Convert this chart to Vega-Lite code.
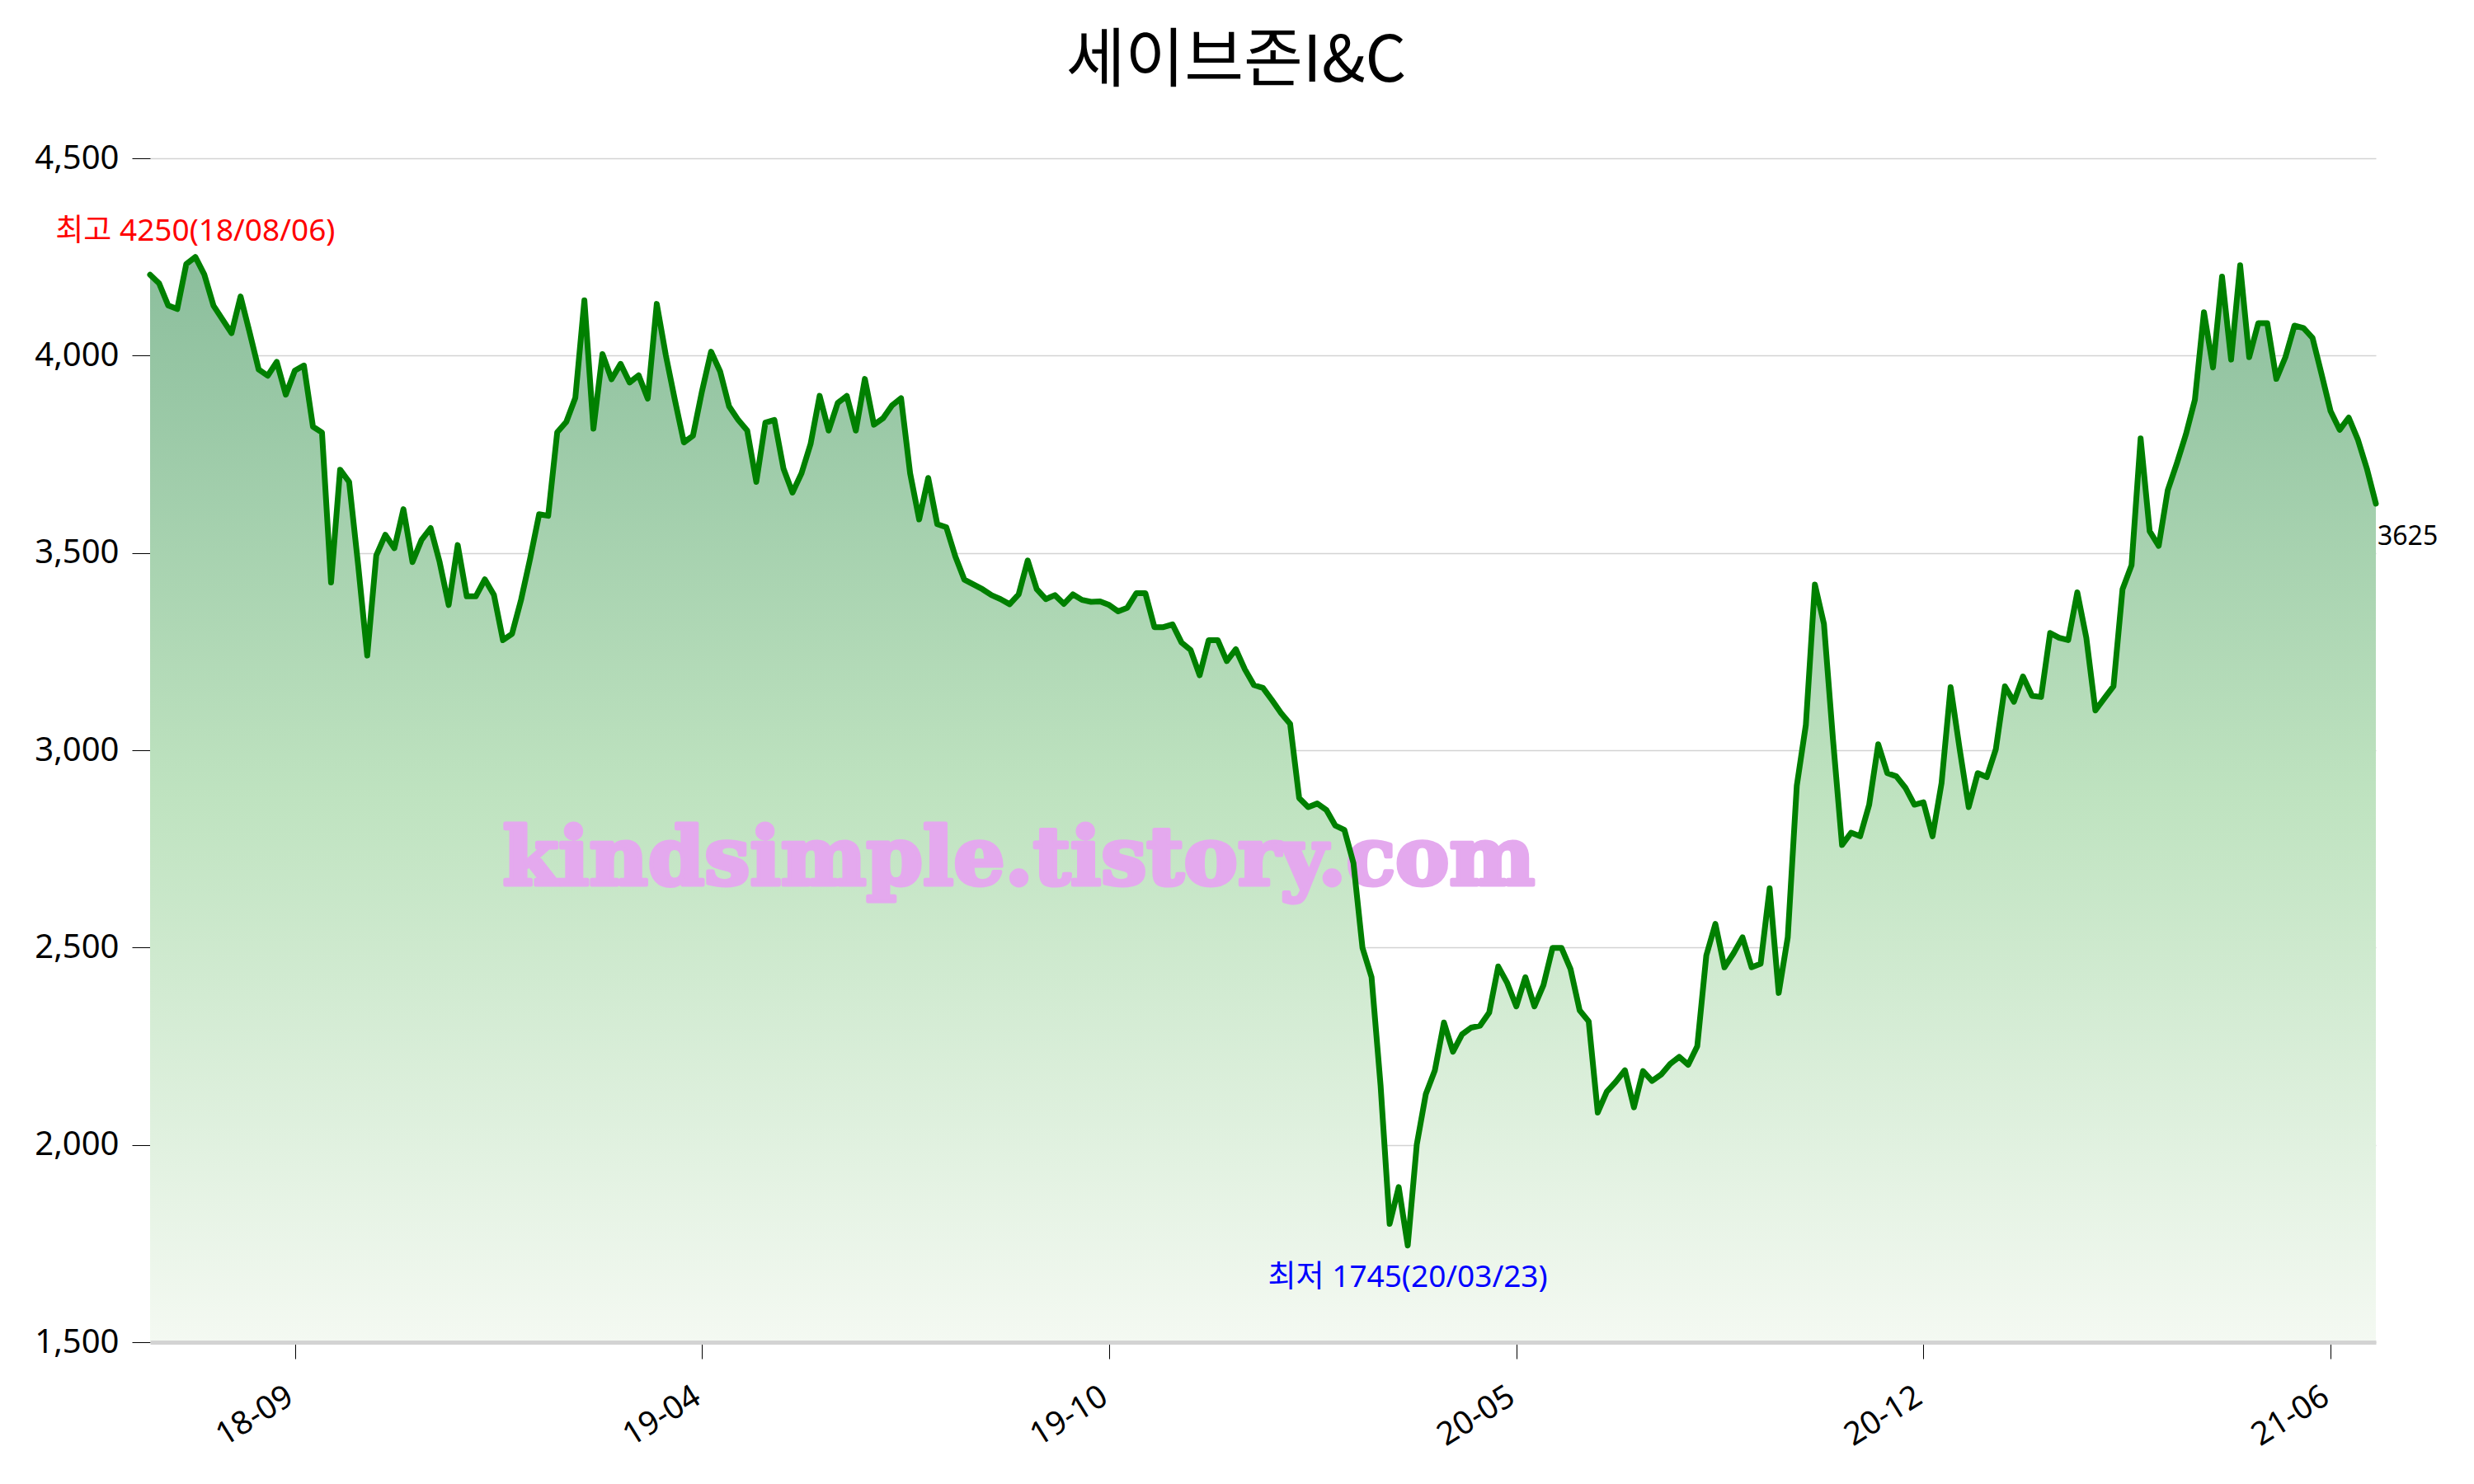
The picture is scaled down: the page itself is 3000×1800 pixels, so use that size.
{
  "$schema": "https://vega.github.io/schema/vega-lite/v6.json",
  "width": 2699,
  "height": 1436,
  "autosize": {"type": "none"},
  "padding": {"left": 182, "top": 192, "right": 119, "bottom": 172},
  "background": "white",
  "config": {"view": {"stroke": null}},
  "title": {"text": "세이브존I&C", "font": "Noto Sans CJK KR", "fontSize": 78, "fontWeight": "normal", "color": "black", "anchor": "middle", "frame": "bounds", "offset": 57},
  "datasets": {
    "price": [
      {"date":"2018-07-16","close":4205},{"date":"2018-07-20","close":4183},{"date":"2018-07-24","close":4127},{"date":"2018-07-28","close":4118},{"date":"2018-08-02","close":4232},
      {"date":"2018-08-06","close":4250},{"date":"2018-08-10","close":4205},{"date":"2018-08-15","close":4127},{"date":"2018-08-19","close":4092},{"date":"2018-08-24","close":4057},
      {"date":"2018-08-28","close":4150},{"date":"2018-09-02","close":4059},{"date":"2018-09-06","close":3965},{"date":"2018-09-11","close":3949},{"date":"2018-09-15","close":3984},
      {"date":"2018-09-19","close":3901},{"date":"2018-09-24","close":3962},{"date":"2018-09-28","close":3975},{"date":"2018-10-03","close":3820},{"date":"2018-10-07","close":3805},
      {"date":"2018-10-12","close":3425},{"date":"2018-10-16","close":3711},{"date":"2018-10-20","close":3680},{"date":"2018-10-25","close":3468},{"date":"2018-10-29","close":3240},
      {"date":"2018-11-03","close":3494},{"date":"2018-11-07","close":3546},{"date":"2018-11-12","close":3512},{"date":"2018-11-16","close":3611},{"date":"2018-11-21","close":3477},
      {"date":"2018-11-25","close":3533},{"date":"2018-11-29","close":3563},{"date":"2018-12-04","close":3477},{"date":"2018-12-08","close":3368},{"date":"2018-12-13","close":3520},
      {"date":"2018-12-17","close":3390},{"date":"2018-12-22","close":3390},{"date":"2018-12-26","close":3433},{"date":"2018-12-31","close":3394},{"date":"2019-01-04","close":3279},
      {"date":"2019-01-08","close":3295},{"date":"2019-01-13","close":3381},{"date":"2019-01-17","close":3485},{"date":"2019-01-22","close":3598},{"date":"2019-01-26","close":3594},
      {"date":"2019-01-31","close":3806},{"date":"2019-02-04","close":3832},{"date":"2019-02-08","close":3893},{"date":"2019-02-13","close":4140},{"date":"2019-02-17","close":3815},
      {"date":"2019-02-22","close":4004},{"date":"2019-02-26","close":3940},{"date":"2019-03-03","close":3979},{"date":"2019-03-07","close":3932},{"date":"2019-03-12","close":3950},
      {"date":"2019-03-16","close":3891},{"date":"2019-03-20","close":4131},{"date":"2019-03-25","close":4001},{"date":"2019-03-29","close":3888},{"date":"2019-04-03","close":3780},
      {"date":"2019-04-07","close":3797},{"date":"2019-04-12","close":3910},{"date":"2019-04-16","close":4010},{"date":"2019-04-21","close":3960},{"date":"2019-04-25","close":3871},
      {"date":"2019-04-29","close":3837},{"date":"2019-05-04","close":3810},{"date":"2019-05-08","close":3680},{"date":"2019-05-13","close":3830},{"date":"2019-05-17","close":3837},
      {"date":"2019-05-22","close":3714},{"date":"2019-05-26","close":3653},{"date":"2019-05-31","close":3702},{"date":"2019-06-04","close":3776},{"date":"2019-06-08","close":3898},
      {"date":"2019-06-13","close":3810},{"date":"2019-06-17","close":3880},{"date":"2019-06-22","close":3898},{"date":"2019-06-26","close":3810},{"date":"2019-07-01","close":3941},
      {"date":"2019-07-05","close":3825},{"date":"2019-07-09","close":3841},{"date":"2019-07-14","close":3874},{"date":"2019-07-18","close":3892},{"date":"2019-07-23","close":3702},
      {"date":"2019-07-27","close":3585},{"date":"2019-08-01","close":3690},{"date":"2019-08-05","close":3573},{"date":"2019-08-10","close":3565},{"date":"2019-08-14","close":3491},
      {"date":"2019-08-18","close":3432},{"date":"2019-08-23","close":3420},{"date":"2019-08-27","close":3408},{"date":"2019-09-01","close":3393},{"date":"2019-09-05","close":3383},
      {"date":"2019-09-10","close":3370},{"date":"2019-09-14","close":3395},{"date":"2019-09-19","close":3481},{"date":"2019-09-23","close":3408},{"date":"2019-09-27","close":3383},
      {"date":"2019-10-02","close":3393},{"date":"2019-10-06","close":3371},{"date":"2019-10-11","close":3395},{"date":"2019-10-15","close":3381},{"date":"2019-10-20","close":3376},
      {"date":"2019-10-24","close":3377},{"date":"2019-10-28","close":3368},{"date":"2019-11-02","close":3352},{"date":"2019-11-06","close":3361},{"date":"2019-11-11","close":3398},
      {"date":"2019-11-15","close":3398},{"date":"2019-11-20","close":3312},{"date":"2019-11-24","close":3312},{"date":"2019-11-29","close":3319},{"date":"2019-12-03","close":3273},
      {"date":"2019-12-07","close":3254},{"date":"2019-12-12","close":3190},{"date":"2019-12-16","close":3279},{"date":"2019-12-21","close":3279},{"date":"2019-12-25","close":3226},
      {"date":"2019-12-30","close":3256},{"date":"2020-01-03","close":3205},{"date":"2020-01-08","close":3165},{"date":"2020-01-12","close":3158},{"date":"2020-01-16","close":3127},
      {"date":"2020-01-21","close":3094},{"date":"2020-01-25","close":3067},{"date":"2020-01-30","close":2879},{"date":"2020-02-03","close":2856},{"date":"2020-02-08","close":2865},
      {"date":"2020-02-12","close":2849},{"date":"2020-02-16","close":2809},{"date":"2020-02-21","close":2798},{"date":"2020-02-25","close":2714},{"date":"2020-03-01","close":2499},
      {"date":"2020-03-05","close":2425},{"date":"2020-03-10","close":2150},{"date":"2020-03-14","close":1800},{"date":"2020-03-19","close":1893},{"date":"2020-03-23","close":1745},
      {"date":"2020-03-27","close":2001},{"date":"2020-04-01","close":2129},{"date":"2020-04-05","close":2189},{"date":"2020-04-10","close":2310},{"date":"2020-04-14","close":2236},
      {"date":"2020-04-19","close":2280},{"date":"2020-04-23","close":2297},{"date":"2020-04-28","close":2302},{"date":"2020-05-02","close":2335},{"date":"2020-05-07","close":2452},
      {"date":"2020-05-11","close":2410},{"date":"2020-05-16","close":2351},{"date":"2020-05-20","close":2425},{"date":"2020-05-25","close":2351},{"date":"2020-05-29","close":2405},
      {"date":"2020-06-03","close":2499},{"date":"2020-06-07","close":2499},{"date":"2020-06-12","close":2445},{"date":"2020-06-16","close":2341},{"date":"2020-06-21","close":2313},
      {"date":"2020-06-25","close":2082},{"date":"2020-06-30","close":2135},{"date":"2020-07-04","close":2160},{"date":"2020-07-09","close":2189},{"date":"2020-07-13","close":2095},
      {"date":"2020-07-18","close":2187},{"date":"2020-07-22","close":2162},{"date":"2020-07-27","close":2178},{"date":"2020-07-31","close":2205},{"date":"2020-08-05","close":2223},
      {"date":"2020-08-09","close":2203},{"date":"2020-08-14","close":2250},{"date":"2020-08-18","close":2480},{"date":"2020-08-23","close":2560},{"date":"2020-08-27","close":2450},
      {"date":"2020-08-31","close":2485},{"date":"2020-09-05","close":2526},{"date":"2020-09-09","close":2450},{"date":"2020-09-14","close":2459},{"date":"2020-09-18","close":2650},
      {"date":"2020-09-23","close":2385},{"date":"2020-09-27","close":2526},{"date":"2020-10-02","close":2910},{"date":"2020-10-06","close":3064},{"date":"2020-10-11","close":3420},
      {"date":"2020-10-15","close":3320},{"date":"2020-10-20","close":3027},{"date":"2020-10-24","close":2760},{"date":"2020-10-29","close":2791},{"date":"2020-11-02","close":2782},
      {"date":"2020-11-07","close":2862},{"date":"2020-11-11","close":3015},{"date":"2020-11-16","close":2942},{"date":"2020-11-20","close":2934},{"date":"2020-11-25","close":2905},
      {"date":"2020-11-29","close":2862},{"date":"2020-12-04","close":2868},{"date":"2020-12-08","close":2782},{"date":"2020-12-13","close":2917},{"date":"2020-12-17","close":3160},
      {"date":"2020-12-22","close":3003},{"date":"2020-12-26","close":2856},{"date":"2020-12-31","close":2942},{"date":"2021-01-04","close":2932},{"date":"2021-01-09","close":3003},
      {"date":"2021-01-13","close":3162},{"date":"2021-01-18","close":3123},{"date":"2021-01-22","close":3187},{"date":"2021-01-27","close":3138},{"date":"2021-01-31","close":3135},
      {"date":"2021-02-04","close":3297},{"date":"2021-02-09","close":3285},{"date":"2021-02-13","close":3279},{"date":"2021-02-18","close":3400},{"date":"2021-02-22","close":3285},
      {"date":"2021-02-27","close":3101},{"date":"2021-03-03","close":3132},{"date":"2021-03-08","close":3162},{"date":"2021-03-12","close":3408},{"date":"2021-03-17","close":3469},
      {"date":"2021-03-21","close":3790},{"date":"2021-03-26","close":3555},{"date":"2021-03-30","close":3518},{"date":"2021-04-04","close":3659},{"date":"2021-04-08","close":3727},
      {"date":"2021-04-13","close":3800},{"date":"2021-04-17","close":3888},{"date":"2021-04-22","close":4110},{"date":"2021-04-26","close":3970},{"date":"2021-05-01","close":4200},
      {"date":"2021-05-05","close":3990},{"date":"2021-05-10","close":4229},{"date":"2021-05-14","close":3996},{"date":"2021-05-19","close":4082},{"date":"2021-05-23","close":4082},
      {"date":"2021-05-28","close":3941},{"date":"2021-06-01","close":3996},{"date":"2021-06-06","close":4076},{"date":"2021-06-10","close":4070},{"date":"2021-06-15","close":4045},
      {"date":"2021-06-19","close":3953},{"date":"2021-06-24","close":3859},{"date":"2021-06-28","close":3812},{"date":"2021-07-03","close":3843},{"date":"2021-07-07","close":3788},
      {"date":"2021-07-12","close":3714},{"date":"2021-07-16","close":3625}
    ]
  },
  "data": {"name": "price"},
  "encoding": {
    "x": {
      "field": "date", "type": "ordinal",
      "scale": {"type": "point", "padding": 0},
      "axis": {
        "title": null,
        "values": ["2018-09-24", "2019-04-12", "2019-10-28", "2020-05-16", "2020-12-04", "2021-06-24"],
        "labelExpr": "substring(datum.value, 2, 7)",
        "labelAngle": -32,
        "labelFont": "Noto Sans",
        "labelFontSize": 39,
        "labelColor": "black",
        "labelPadding": 26,
        "labelOffset": -16,
        "labelOverlap": false,
        "labelBound": false,
        "tickColor": "black",
        "tickSize": 20,
        "tickWidth": 1,
        "domainColor": "#d3d3d3",
        "domainWidth": 5,
        "grid": false,
        "zindex": 1
      }
    },
    "y": {
      "field": "close", "type": "quantitative",
      "scale": {"domain": [1500, 4500], "nice": false, "zero": false},
      "axis": {
        "title": null,
        "values": [1500, 2000, 2500, 3000, 3500, 4000, 4500],
        "format": ",d",
        "labelFont": "Noto Sans",
        "labelFontSize": 40,
        "labelColor": "black",
        "labelPadding": 16,
        "tickColor": "black",
        "tickSize": 22,
        "tickWidth": 1,
        "domain": false,
        "grid": true,
        "gridColor": "#d3d3d3",
        "gridWidth": 1.5
      }
    }
  },
  "layer": [
    {
      "mark": {
        "type": "area",
        "color": {
          "gradient": "linear", "x1": 0, "y1": 0, "x2": 0, "y2": 1,
          "stops": [
            {"offset": 0, "color": "#8bbe9c"},
            {"offset": 0.5, "color": "#bfe3c0"},
            {"offset": 1, "color": "#f4f9f2"}
          ]
        }
      },
      "encoding": {"y2": {"datum": 1500}}
    },
    {
      "data": {"values": [{"date": "2019-09-14", "close": 2660, "label": "kindsimple.tistory.com"}]},
      "mark": {"type": "text", "font": "DejaVu Serif", "fontWeight": "bold", "fontSize": 98, "color": "#e4a9ee", "stroke": "#e4a9ee", "strokeWidth": 5, "strokeJoin": "round", "align": "center", "baseline": "alphabetic"},
      "encoding": {"text": {"field": "label"}}
    },
    {
      "mark": {"type": "line", "color": "#008000", "strokeWidth": 7, "strokeJoin": "round", "strokeCap": "round"}
    },
    {
      "data": {"values": [{"date": "2018-08-06", "close": 4250, "label": "최고 4250(18/08/06)"}]},
      "mark": {"type": "text", "font": "Noto Sans, Noto Sans CJK KR", "fontSize": 37, "color": "#ff0000", "align": "center", "baseline": "middle", "dy": -31},
      "encoding": {"text": {"field": "label"}}
    },
    {
      "data": {"values": [{"date": "2020-03-23", "close": 1745, "label": "최저 1745(20/03/23)"}]},
      "mark": {"type": "text", "font": "Noto Sans, Noto Sans CJK KR", "fontSize": 37, "color": "#0000ff", "align": "center", "baseline": "middle", "dy": 39},
      "encoding": {"text": {"field": "label"}}
    },
    {
      "data": {"values": [{"date": "2021-07-16", "close": 3625, "label": "3625"}]},
      "mark": {"type": "text", "font": "Noto Sans", "fontSize": 32, "color": "black", "align": "left", "baseline": "middle", "dx": 2, "dy": 40},
      "encoding": {"text": {"field": "label"}}
    }
  ]
}
